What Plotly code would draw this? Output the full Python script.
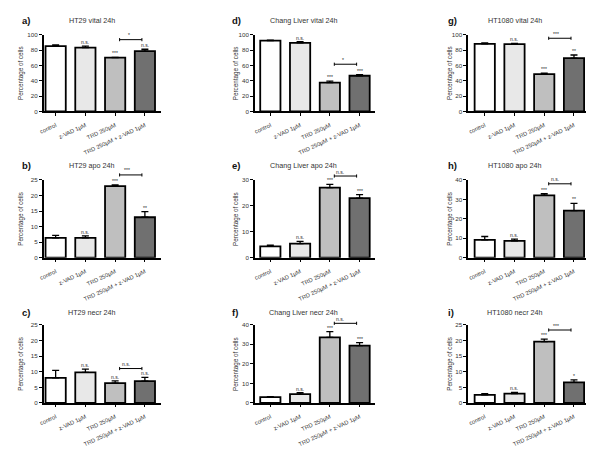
import plotly.graph_objects as go

categories = ["control", "z-VAD 1µM", "TRD 250µM", "TRD 250µM + z-VAD 1µM"]

# ---- data ----
ht29_vital = [85, 83, 70, 78.5]
ht29_vital_err = [1.5, 2.0, 0.5, 2.5]
ht29_vital_sig = ["", "n.s.", "***", "n.s."]

chang_vital = [92.3, 89.3, 37.5, 46.5]
chang_vital_err = [0.4, 1.7, 2.0, 1.5]
chang_vital_sig = ["", "n.s.", "***", "***"]

ht1080_vital = [88.1, 87.7, 48.5, 69.5]
ht1080_vital_err = [1.3, 1.0, 1.3, 4.0]
ht1080_vital_sig = ["", "n.s.", "***", "**"]

ht29_apo = [6.4, 6.4, 23.0, 13.0]
ht29_apo_err = [0.8, 0.6, 0.4, 1.8]
ht29_apo_sig = ["", "n.s.", "***", "**"]

chang_apo = [4.4, 5.4, 27.0, 23.0]
chang_apo_err = [0.4, 0.9, 1.3, 1.3]
chang_apo_sig = ["", "n.s.", "***", "***"]

ht1080_apo = [9.2, 8.7, 32.1, 24.2]
ht1080_apo_err = [1.7, 0.9, 0.8, 3.7]
ht1080_apo_sig = ["", "n.s.", "***", "**"]

ht29_necr = [8.0, 9.8, 6.35, 7.0]
ht29_necr_err = [2.4, 1.0, 0.7, 1.2]
ht29_necr_sig = ["", "n.s.", "n.s.", "n.s."]

chang_necr = [3.0, 4.5, 33.5, 29.3]
chang_necr_err = [0.3, 0.8, 3.0, 1.5]
chang_necr_sig = ["", "n.s.", "***", "***"]

ht1080_necr = [2.6, 3.0, 19.6, 6.6]
ht1080_necr_err = [0.4, 0.4, 0.8, 0.8]
ht1080_necr_sig = ["", "n.s.", "***", "*"]

# bracket between TRD 250µM and TRD 250µM + z-VAD 1µM
bracket_levels = [93.5, 61.5, 95.3, 26.6, 31.5, 38.0, 11.0, 40.7, 23.3]
bracket_labels = ["*", "*", "***", "***", "n.s.", "n.s.", "n.s.", "n.s.", "***"]

panel_letters = ["a)", "d)", "g)", "b)", "e)", "h)", "c)", "f)", "i)"]
panel_titles = ["HT29 vital 24h", "Chang Liver vital 24h", "HT1080 vital 24h",
                "HT29 apo 24h", "Chang Liver apo 24h", "HT1080 apo 24h",
                "HT29 necr 24h", "Chang Liver necr 24h", "HT1080 necr 24h"]
axis_max = [100, 100, 100, 25, 30, 40, 25, 40, 25]
axis_dtick = [20, 20, 20, 5, 10, 10, 5, 10, 5]

values = [ht29_vital, chang_vital, ht1080_vital, ht29_apo, chang_apo, ht1080_apo,
          ht29_necr, chang_necr, ht1080_necr]
errors = [ht29_vital_err, chang_vital_err, ht1080_vital_err, ht29_apo_err, chang_apo_err,
          ht1080_apo_err, ht29_necr_err, chang_necr_err, ht1080_necr_err]
sigs = [ht29_vital_sig, chang_vital_sig, ht1080_vital_sig, ht29_apo_sig, chang_apo_sig,
        ht1080_apo_sig, ht29_necr_sig, chang_necr_sig, ht1080_necr_sig]

bar_colors = ["#ffffff", "#e8e8e8", "#bfbfbf", "#707070"]

# ---- layout geometry (page pixels; page body has an 8px margin) ----
W, H = 600, 462
OFF = 8
col_px = [(39, 157), (252, 373), (467, 586)]
col_first = [51, 267.5, 483.7]
spacing = 30.0
row_px = [(31, 109), (178.5, 257.5), (325.5, 405)]
label_x = [15, 227, 445]
title_x = [88, 301, 514]
ytitle_x = [16, 233, 448.5]
title_y = [16.5, 164, 313]


def px_x(v):
    return (v - OFF) / W


def px_y(v):
    return 1 - (v - OFF) / H


FONT = "Liberation Sans, Arial, sans-serif"
TXT = "#333333"

fig = go.Figure()
layout = dict(width=W, height=H, margin=dict(l=0, r=0, t=0, b=0),
              paper_bgcolor="white", plot_bgcolor="white", showlegend=False,
              font=dict(family=FONT, color=TXT))
annotations = []
shapes = []

for i in range(9):
    r, c = divmod(i, 3)
    n = "" if i == 0 else str(i + 1)
    L, R = col_px[c]
    T, B = row_px[r]
    lo = (L - col_first[c]) / spacing
    hi = (R - col_first[c]) / spacing
    ymax = axis_max[i]
    vals, errs = values[i], errors[i]

    fig.add_trace(go.Bar(
        x=categories, y=vals, xaxis="x" + n, yaxis="y" + n, width=0.68,
        marker=dict(color=bar_colors, line=dict(color="black", width=1.8)),
        error_y=dict(type="data", array=errs, arrayminus=[0] * len(errs),
                     symmetric=False, color="black", thickness=1.3, width=3.5),
        hoverinfo="skip"))

    layout["xaxis" + n] = dict(
        domain=[px_x(L), px_x(R)], anchor="y" + n, type="category",
        range=[lo, hi], showline=True, linecolor="black", linewidth=1.7,
        ticks="outside", ticklen=2.5, tickwidth=1, tickcolor="black",
        tickangle=-25, ticklabelstandoff=4,
        tickfont=dict(size=5.8, family=FONT, color=TXT),
        showgrid=False, zeroline=False, fixedrange=True)
    layout["yaxis" + n] = dict(
        domain=[px_y(B), px_y(T)], anchor="x" + n,
        range=[0, ymax], dtick=axis_dtick[i], tick0=0,
        showline=True, linecolor="black", linewidth=1.7,
        ticks="outside", ticklen=3, tickwidth=1, tickcolor="black",
        tickfont=dict(size=6.2, family=FONT, color=TXT),
        showgrid=False, zeroline=False, fixedrange=True)

    # significance marks above bars
    for k, s in enumerate(sigs[i]):
        if s:
            annotations.append(dict(
                x=k, y=vals[k] + errs[k], xref="x" + n, yref="y" + n,
                text=s, showarrow=False, yanchor="bottom", yshift=0, borderpad=0,
                font=dict(size=5, family=FONT, color="#222222")))

    # bracket between bar 3 and bar 4
    by = bracket_levels[i]
    xa, xb = 2 + 0.15, 3 - 0.1
    fx = lambda v: (v - lo) / (hi - lo)
    fy = by / ymax
    d = 1.6 / (B - T)
    xd = "x" + n + " domain"
    yd = "y" + n + " domain"
    line = dict(color="black", width=1)
    shapes.append(dict(type="line", xref=xd, yref=yd, x0=fx(xa), x1=fx(xb), y0=fy, y1=fy, line=line))
    shapes.append(dict(type="line", xref=xd, yref=yd, x0=fx(xa), x1=fx(xa), y0=fy - d, y1=fy + d, line=line))
    shapes.append(dict(type="line", xref=xd, yref=yd, x0=fx(xb), x1=fx(xb), y0=fy - d, y1=fy + d, line=line))
    annotations.append(dict(
        x=fx((xa + xb) / 2), y=fy, xref=xd, yref=yd, text=bracket_labels[i], showarrow=False,
        yanchor="bottom", yshift=0.5, borderpad=0,
        font=dict(size=5, family=FONT, color="#222222")))

    # panel letter, title, y-axis title
    annotations.append(dict(
        x=px_x(label_x[c]), y=px_y(title_y[r]), xref="paper", yref="paper",
        text="<b>" + panel_letters[i] + "</b>", showarrow=False, xanchor="left", yanchor="middle",
        font=dict(size=9.5, family=FONT, color="#111111")))
    annotations.append(dict(
        x=px_x(title_x[c]), y=px_y(title_y[r]), xref="paper", yref="paper",
        text=panel_titles[i], showarrow=False, xanchor="center", yanchor="middle",
        font=dict(size=7.2, family=FONT, color=TXT)))
    annotations.append(dict(
        x=px_x(ytitle_x[c]), y=px_y((T + B) / 2), xref="paper", yref="paper",
        text="Percentage of cells", showarrow=False, textangle=-90,
        xanchor="center", yanchor="middle",
        font=dict(size=6.3, family=FONT, color=TXT)))

layout["annotations"] = annotations
layout["shapes"] = shapes
fig.update_layout(**layout)
fig.write_html("out.html")
